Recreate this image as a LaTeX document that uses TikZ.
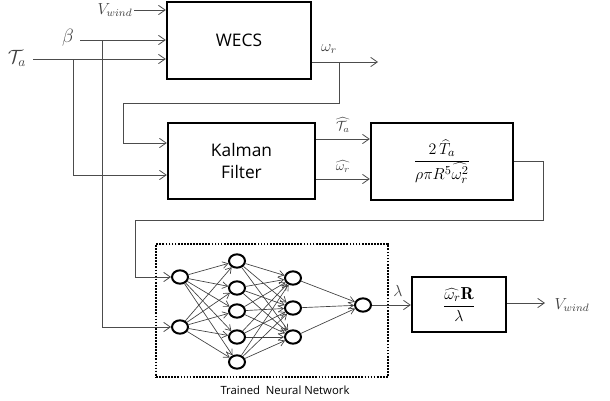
\documentclass[tikz,border=0pt]{standalone}
\usepackage{fontspec}
\setsansfont{Open Sans}
\usetikzlibrary{arrows.meta,shapes.geometric}
\begin{document}
\begin{tikzpicture}[x=0.75pt,y=-0.75pt,
  wire/.style={draw=black!70,line width=0.6pt},
  arr/.style={wire,-{Straight Barb[length=5pt,width=7pt]}},
  narr/.style={draw=black!75,line width=0.5pt,-{Straight Barb[length=4pt,width=5pt]}},
  blk/.style={draw,line width=1.8pt,inner sep=0pt,align=center},
  neuron/.style={draw,ellipse,line width=1.5pt,minimum width=12pt,minimum height=10pt,inner sep=0pt},
  lbl/.style={inner sep=1pt,text=black!75},
  boxtext/.style={font=\sffamily\fontsize{13}{16}\selectfont}]
\useasboundingbox (0,0) rectangle (610,400);

% blocks
\node[blk,minimum width=108pt,minimum height=57.75pt,boxtext] (wecs) at (239,40.5) {WECS};
\node[blk,minimum width=110.25pt,minimum height=57pt,boxtext] (kal) at (241.5,161) {Kalman\\Filter};
\node[blk,minimum width=106.5pt,minimum height=57.75pt] (form) at (442,161.5)
  {\fontsize{13}{16}\selectfont$\displaystyle\frac{2\,\widehat{T}_a}{\rho\pi R^5\widehat{\omega_r^2}}$};
\node[blk,minimum width=70.5pt,minimum height=41.25pt] (lam) at (459,304.5)
  {\fontsize{13}{16}\selectfont$\displaystyle\frac{\widehat{\omega_r}\mathbf{R}}{\lambda}$};

% neural network enclosure
\node[draw,densely dotted,line width=1.3pt,minimum width=174pt,minimum height=99.75pt,inner sep=0pt] (nn) at (272,310.5) {};
\node[font=\sffamily\fontsize{8.5}{10}\selectfont] (nnlbl) at (285,390) {Trained~~Neural Network};

% neurons
\node[neuron] (i1) at (180,277) {};
\node[neuron] (i2) at (180,327) {};
\foreach \k/\y in {1/261,2/288,3/311,4/337,5/362} \node[neuron] (h\k) at (237,\y) {};
\foreach \k/\y in {1/278,2/308,3/337} \node[neuron] (g\k) at (293,\y) {};
\node[neuron] (o) at (363,305) {};
\foreach \a in {1,2} \foreach \b in {1,...,5} \draw[narr] (i\a) -- (h\b);
\foreach \a in {1,...,5} \foreach \b in {1,2,3} \draw[narr] (h\a) -- (g\b);
\foreach \a in {1,2,3} \draw[narr] (g\a) -- (o);

% external inputs
\node[lbl,font=\large] (vw) at (115,10) {$V_{wind}$};
\node[lbl,font=\Large] (beta) at (68,38) {$\beta$};
\node[lbl,font=\Large] (ta) at (17,58) {$\mathcal{T}_a$};
\coordinate (vws) at (134,10);
\coordinate (bs) at (80,40);
\coordinate (ts) at (33,59);
\coordinate (bj) at (102,40);
\coordinate (tj) at (73,59);
\draw[arr] (vws) -- (wecs.west |- vws);
\draw[arr] (bs) -- (wecs.west |- bs);
\draw[arr] (ts) -- (wecs.west |- ts);
\draw[arr] (bj) -- (102,327) -- (i2);
\draw[arr] (tj) -- (73,175) -- (kal.west |- 0,175);

% rotor speed output and feedback
\coordinate (wout) at (378,62);
\coordinate (wj) at (339,62);
\node[lbl,font=\large] (wr) at (329,49) {$\omega_r$};
\draw[arr] (wecs.east |- wout) -- (wout);
\draw[arr] (wj) -- (339,103) -- (123,103) -- (123,143) -- (kal.west |- 0,143);

% estimates into the formula block
\draw[arr] (kal.east |- 0,139) -- (form.west |- 0,139);
\draw[arr] (kal.east |- 0,179) -- (form.west |- 0,179);
\node[lbl] (tah) at (343,125) {$\widehat{\mathcal{T}_a}$};
\node[lbl] (wrh) at (343,166) {$\widehat{\omega_r}$};

% formula output to the network
\draw[arr] (form.east |- 0,161) -- (543,161) -- (543,220) -- (135,220) -- (135,277) -- (i1);

% tip speed ratio and wind speed estimate
\draw[arr] (o) -- (lam.west |- o);
\node[lbl,font=\large] (lamlbl) at (398,291) {$\lambda$};
\coordinate (vout) at (545,303);
\draw[arr] (lam.east |- vout) -- (vout);
\node[lbl,font=\large] (vwo) at (572,305) {$V_{wind}$};
\end{tikzpicture}
\end{document}
